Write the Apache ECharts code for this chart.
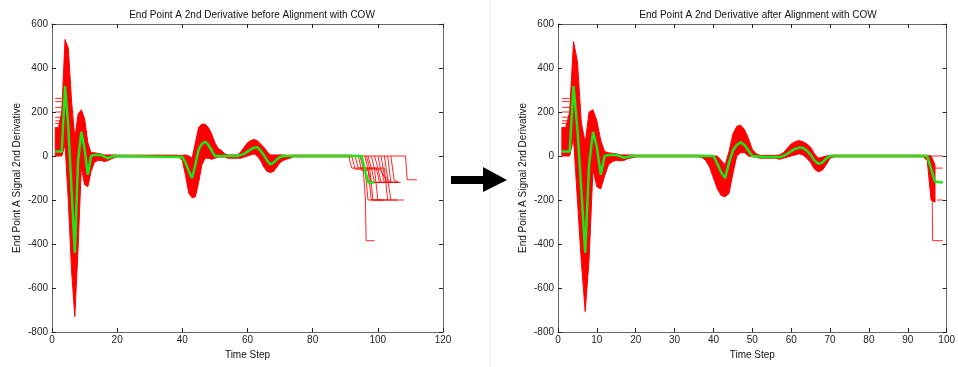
<!DOCTYPE html>
<html>
<head>
<meta charset="utf-8">
<script src="https://cdn.jsdelivr.net/npm/echarts@6/dist/echarts.min.js"></script>
<style>
  html, body { margin: 0; padding: 0; background: #fff; }
  #chart { width: 958px; height: 367px; }
</style>
</head>
<body>
<div id="chart"></div>
<script>
// flat start levels of the signals (time steps 1..3)
const startLevels = [262, 247, 221, 200, 176, 160, 148];

// red bundle before alignment: lower / upper edge per time step
const leftBandSteps = [1,2,3,4,5,6,7,8,9,10,11,12,13,14,15,16,17,18,19,20,38,39,40,41,42,43,44,45,46,47,48,49,50,51,52,53,54,57,58,59,60,61,62,63,64,65,66,67,68,69,70,71,72,73,74,92];
const leftBandLow = [0,0,0,50,-200,-520,-730,-420,-50,-130,-140,-70,-30,-20,-20,-25,-22,-15,-8,-4,-4,-6,-20,-90,-170,-190,-185,-120,-40,-10,-10,-15,-10,-5,-5,-5,-10,-10,-10,-5,0,5,10,0,-20,-50,-70,-75,-70,-50,-30,-20,-15,-10,-4,-4];
const leftBandHigh = [130,130,200,530,490,250,80,190,210,170,60,15,15,12,10,5,5,5,5,4,4,3,3,5,0,-10,60,130,145,145,130,100,60,35,25,10,5,5,20,40,60,70,75,70,55,40,20,5,5,5,5,5,3,3,4,4];

// green mean before alignment
const leftMeanSteps = [1,3,4,5,6,7,8,9,10,11,12,13,15,17,19,40,41,42,43,44,45,46,47,48,49,50,57,58,59,60,61,62,63,64,65,66,67,68,69,70,71,95,96,97,99];
const leftMean = [20,20,318,130,-150,-440,-20,110,30,-85,0,5,5,-10,0,-5,-30,-70,-100,-40,30,55,65,50,25,0,0,5,10,20,30,38,40,25,5,-20,-38,-30,-15,-5,0,0,-60,-120,-120];

// ragged signal ends before alignment
const leftTails = [
  [[91,0],[92,-55],[96,-55],[97,-200],[101,-200]],
  [[92,0],[93,-60],[97,-60],[98,-200],[102,-200]],
  [[93,0],[94,-55],[95.5,-55],[96.2,-200],[96.4,-385],[99,-385]],
  [[94,0],[95,-65],[97,-65],[98,-120],[103,-120]],
  [[94.5,0],[95.5,-55],[97.5,-55],[98.5,-200],[103,-200]],
  [[95,0],[96,-55],[98,-55],[99,-120],[104,-120]],
  [[96,0],[97,-60],[99,-60],[100,-200],[104,-200]],
  [[96.5,0],[97.5,-55],[99.5,-55],[100.5,-120],[104.5,-120]],
  [[97,0],[98,-55],[100,-55],[101,-120],[105,-120]],
  [[98,0],[99,-60],[101,-60],[102,-120],[106,-120]],
  [[99,0],[100,-55],[102,-55],[103,-200],[106,-200]],
  [[100,0],[101,-70],[103,-120],[107,-120]],
  [[101,0],[102,-90],[104,-120],[106,-120]],
  [[102,0],[103,-100],[104,-200],[108,-200]],
  [[103,0],[104,-120],[106,-120]],
  [[104,0],[105,-110],[106.5,-120]],
  [[92,0],[108.5,0],[109,-108],[112,-108]]
];

// red bundle after alignment
const rightBandSteps = [1,2,3,4,5,6,7,8,9,10,11,12,13,14,15,16,17,18,19,20,36,37,38,39,40,41,42,43,44,45,46,47,48,49,50,51,52,56,57,58,59,60,61,62,63,64,65,66,67,68,69,70,71,94,95,96,97];
const rightBandLow = [0,0,0,80,-200,-480,-707,-470,-60,-140,-150,-90,-40,-25,-20,-22,-20,-12,-8,-4,-4,-6,-20,-50,-100,-150,-180,-185,-170,-80,0,15,15,0,-3,-5,-10,-10,-15,-10,-5,0,5,10,5,-10,-30,-60,-72,-65,-40,-10,-4,-4,-20,-200,-210];
const rightBandHigh = [130,130,200,520,430,150,60,200,210,160,70,20,15,12,10,5,5,5,5,4,4,3,3,3,0,0,-20,-40,20,100,135,140,120,80,30,10,3,3,5,15,35,55,65,70,65,55,40,10,-10,-5,0,3,4,4,3,0,-40];

// green mean after alignment
const rightMeanSteps = [1,3,4,5,6,7,8,9,10,11,12,13,15,17,19,40,41,42,43,44,45,46,47,48,49,50,53,57,58,59,60,61,62,63,64,65,66,67,68,69,70,95,96,97,99];
const rightMean = [20,20,318,120,-150,-440,-40,110,40,-85,0,5,5,-8,0,0,-35,-75,-100,-30,25,50,62,50,25,0,-5,-5,0,10,22,32,38,38,25,5,-20,-35,-30,-12,0,0,-60,-117,-120];

// signal ends after alignment
const rightTails = [
  [[96,0],[99,0]],
  [[97,-55],[99,-55]],
  [[97,-120],[99,-120]],
  [[97.5,-200],[99,-200]],
  [[96.2,-60],[96.4,-385],[99,-385]]
];

const titles = [
  'End Point A 2nd Derivative before Alignment with COW',
  'End Point A 2nd Derivative after Alignment with COW'
];

const RED = '#ff0000';
const GREEN = '#18e818';
const FONT = 'Liberation Sans';

const bandSeries = (steps, low, high, axis) => ({
  type: 'custom',
  xAxisIndex: axis,
  yAxisIndex: axis,
  silent: true,
  data: steps.map((t, i) => [t, low[i], high[i]]),
  encode: { x: 0, y: [1, 2] },
  renderItem: (params, api) => {
    if (params.dataIndex !== 0) return null;
    const top = steps.map((t, i) => api.coord([t, high[i]]));
    const bottom = steps.map((t, i) => api.coord([t, low[i]])).reverse();
    return {
      type: 'polygon',
      shape: { points: top.concat(bottom) },
      style: { fill: RED, stroke: RED, lineWidth: 1 }
    };
  }
});

const redLine = (data, axis) => ({
  type: 'line',
  xAxisIndex: axis,
  yAxisIndex: axis,
  data: data,
  symbol: 'none',
  silent: true,
  lineStyle: { color: RED, width: 1, opacity: 0.85 }
});

const meanLine = (steps, values, axis) => ({
  type: 'line',
  xAxisIndex: axis,
  yAxisIndex: axis,
  data: steps.map((t, i) => [t, values[i]]),
  symbol: 'none',
  silent: true,
  z: 5,
  lineStyle: { color: GREEN, width: 2.5 }
});

const xAxes = (grid, max, interval) => [
  {
    type: 'value', gridIndex: grid, min: 0, max: max, interval: interval,
    name: 'Time Step', nameLocation: 'middle', nameGap: 16,
    nameTextStyle: { fontFamily: FONT, fontSize: 10, color: '#111' },
    axisLine: { show: true, onZero: false, lineStyle: { color: '#666' } },
    axisTick: { inside: true, length: 4, lineStyle: { color: '#222' } },
    axisLabel: { fontFamily: FONT, fontSize: 10, color: '#222', margin: 3 },
    splitLine: { show: false }
  },
  {
    type: 'value', gridIndex: grid, position: 'top', min: 0, max: max, interval: interval,
    axisLine: { show: true, onZero: false, lineStyle: { color: '#666' } },
    axisTick: { inside: true, length: 4, lineStyle: { color: '#222' } },
    axisLabel: { show: false },
    splitLine: { show: false }
  }
];

const yAxes = (grid) => [
  {
    type: 'value', gridIndex: grid, min: -800, max: 600, interval: 200,
    name: 'End Point A Signal 2nd Derivative', nameLocation: 'middle', nameGap: 30,
    nameTextStyle: { fontFamily: FONT, fontSize: 10, color: '#111' },
    axisLine: { show: true, onZero: false, lineStyle: { color: '#666' } },
    axisTick: { inside: true, length: 4, lineStyle: { color: '#222' } },
    axisLabel: { fontFamily: FONT, fontSize: 10, color: '#222', margin: 4 },
    splitLine: { show: false }
  },
  {
    type: 'value', gridIndex: grid, position: 'right', min: -800, max: 600, interval: 200,
    axisLine: { show: true, onZero: false, lineStyle: { color: '#666' } },
    axisTick: { inside: true, length: 4, lineStyle: { color: '#222' } },
    axisLabel: { show: false },
    splitLine: { show: false }
  }
];

const startLines = (axis) => startLevels.map(v => redLine([[1, v], [3, v]], axis));

const initChart = () => {
  const chart = echarts.init(document.getElementById('chart'), null, { renderer: 'canvas' });
  chart.setOption({
    animation: false,
    backgroundColor: '#fff',
    title: [
      { text: titles[0], left: 247, top: 5, textAlign: 'center',
        textStyle: { fontFamily: FONT, fontSize: 10, fontWeight: 'normal', color: '#111' } },
      { text: titles[1], left: 753, top: 5, textAlign: 'center',
        textStyle: { fontFamily: FONT, fontSize: 10, fontWeight: 'normal', color: '#111' } }
    ],
    grid: [
      { left: 52, top: 24, width: 391, height: 308 },
      { left: 558, top: 24, width: 390, height: 308 }
    ],
    xAxis: [...xAxes(0, 120, 20), ...xAxes(1, 100, 10)],
    yAxis: [...yAxes(0), ...yAxes(1)],
    graphic: [
      { type: 'line', shape: { x1: 490, y1: 0, x2: 490, y2: 367 }, style: { stroke: '#ececec', lineWidth: 1 } },
      { type: 'polygon', shape: { points: [[451,176],[483,176],[483,167],[507,180],[483,192],[483,184],[451,184]] },
        style: { fill: '#000' } }
    ],
    series: [
      bandSeries(leftBandSteps, leftBandLow, leftBandHigh, 0),
      ...startLines(0),
      ...leftTails.map(d => redLine(d, 0)),
      meanLine(leftMeanSteps, leftMean, 0),
      bandSeries(rightBandSteps, rightBandLow, rightBandHigh, 2),
      ...startLines(2),
      ...rightTails.map(d => redLine(d, 2)),
      meanLine(rightMeanSteps, rightMean, 2)
    ]
  });
};

window.addEventListener('load', () => {
  initChart();
});
</script>
</body>
</html>
